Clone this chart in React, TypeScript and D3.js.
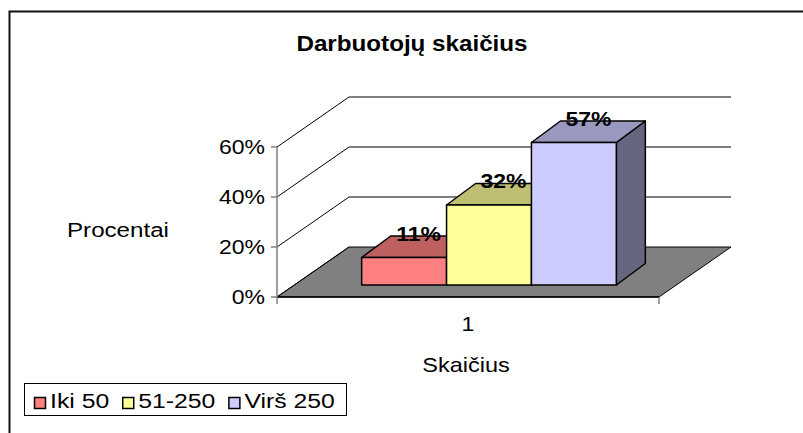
import React from "react";
import * as d3 from "d3";

const title = "Darbuotojų skaičius";
const categories = ["1"];
const seriesNames = ["Iki 50", "51-250", "Virš 250"];
const seriesValues = [0.11, 0.32, 0.57];
const dataLabels = ["11%", "32%", "57%"];
const yTicks = [0, 0.2, 0.4, 0.6];
const yTickLabels = ["0%", "20%", "40%", "60%"];
const yTitle = "Procentai";
const xTitle = "Skaičius";

const frontColors = ["#FF8080", "#FFFF99", "#CCCCFF"];

const FONT = '"Liberation Sans", Arial, sans-serif';
const SX = 1.15;

// layout
const X0 = 277, X1 = 659, Y0 = 297, Y1 = 147;
const FDX = 72, FDY = -50; // floor depth
const BOX = 21, BOY = -12; // bar front offset into depth
const BDX = 29, BDY = -21.5; // bar depth

function measure(text: string, font: string) {
  const c = document.createElement("canvas").getContext("2d");
  if (!c) return text.length * 10;
  c.font = font;
  return c.measureText(text).width;
}

function T(props: { x: number; y: number; s?: number; size: number; bold?: boolean; anchor?: string; children: string }) {
  const { x, y, s = SX, size, bold, anchor = "start", children } = props;
  return (
    <text
      transform={`translate(${x},${y}) scale(${s},1)`}
      fontFamily={FONT}
      fontSize={size}
      fontWeight={bold ? "bold" : "normal"}
      textAnchor={anchor}
      fill="#000"
    >
      {children}
    </text>
  );
}

export default function App() {
  const y = d3.scaleLinear().domain([0, 0.6]).range([Y0, Y1]);
  const x = d3.scaleBand<string>().domain(categories).range([X0, X1]).padding(0.2);
  const inner = d3.scaleBand<string>().domain(seriesNames).range([0, x.bandwidth()]).padding(0);
  const shade = (c: string, k: number) => {
    const r = d3.rgb(c);
    return d3.rgb(r.r * k, r.g * k, r.b * k).formatHex();
  };
  const pts = (p: [number, number][]) => p.map((q) => q.join(",")).join(" ");

  // legend layout
  const legFont = 21, legS = 1.18;
  let lx = 34;
  const legItems = seriesNames.map((n, i) => {
    const w = measure(n, `${legFont}px ${FONT}`) * legS;
    const item = { n, i, sx: lx, tx: lx + 16 };
    lx = lx + 16 + w + 13;
    return item;
  });

  return (
    <svg width={803} height={433} style={{ position: "absolute", left: 0, top: 0 }}>
      <rect x={0} y={0} width={803} height={433} fill="#fff" />
      <rect x={9.5} y={11.5} width={900} height={500} fill="none" stroke="#111" strokeWidth={2} />
      <T x={412} y={51} size={22} bold s={1.1} anchor="middle">{title}</T>

      {/* floor */}
      <polygon
        points={pts([[X0, Y0], [X1, Y0], [X1 + FDX, Y0 + FDY], [X0 + FDX, Y0 + FDY]])}
        fill="#808080"
        stroke="#000"
        strokeWidth={1}
      />
      {/* left wall diagonals and back gridlines */}
      {yTicks.map((t) => (
        <g key={t}>
          <line x1={X0} y1={y(t)} x2={X0 + FDX} y2={y(t) + FDY} stroke="#000" strokeWidth={1} />
          {t > 0 && (
            <line x1={X0 + FDX} y1={y(t) + FDY} x2={X1 + FDX} y2={y(t) + FDY} stroke="#000" strokeWidth={1} />
          )}
        </g>
      ))}
      <line x1={X0} y1={Y0} x2={X1} y2={Y0} stroke="#000" strokeWidth={1.5} />
      {/* y axis */}
      <line x1={X0} y1={Y1} x2={X0} y2={Y0} stroke="#808080" strokeWidth={1.5} />
      {yTicks.map((t, i) => (
        <g key={"yt" + t}>
          <line x1={X0 - 6} y1={y(t)} x2={X0} y2={y(t)} stroke="#808080" strokeWidth={1.5} />
          <T x={265} y={y(t) + 7} size={20} anchor="end">{yTickLabels[i]}</T>
        </g>
      ))}
      {/* x axis ticks */}
      <line x1={X0} y1={Y0} x2={X0} y2={Y0 + 7} stroke="#808080" strokeWidth={1.5} />
      <line x1={X1} y1={Y0} x2={X1} y2={Y0 + 7} stroke="#808080" strokeWidth={1.5} />
      {categories.map((c) => (
        <T key={c} x={(x(c) as number) + x.bandwidth() / 2} y={331} size={20} anchor="middle">{c}</T>
      ))}

      {/* bars */}
      {seriesNames.map((n, i) => {
        const v = seriesValues[i];
        const xl = (x(categories[0]) as number) + (inner(n) as number) + BOX;
        const xr = xl + inner.bandwidth();
        const yb = y(0) + BOY;
        const yt = y(v) + BOY;
        const c = frontColors[i];
        return (
          <g key={n} stroke="#000" strokeWidth={1.5} strokeLinejoin="round">
            <polygon points={pts([[xr, yb], [xr + BDX, yb + BDY], [xr + BDX, yt + BDY], [xr, yt]])} fill={shade(c, 0.5)} />
            <polygon points={pts([[xl, yt], [xr, yt], [xr + BDX, yt + BDY], [xl + BDX, yt + BDY]])} fill={shade(c, 0.75)} />
            <rect x={xl} y={yt} width={xr - xl} height={yb - yt} fill={c} />
          </g>
        );
      })}
      {seriesNames.map((n, i) => {
        const v = seriesValues[i];
        const xl = (x(categories[0]) as number) + (inner(n) as number) + BOX;
        const cx = xl + inner.bandwidth() / 2 + BDX / 2;
        const ty = y(v) + BOY + BDY / 2 - 6;
        return (
          <T key={"l" + n} x={cx} y={ty} size={20} bold anchor="middle">{dataLabels[i]}</T>
        );
      })}

      {/* axis titles */}
      <T x={67} y={237} size={21}>{yTitle}</T>
      <T x={466} y={372} size={21} s={1.12} anchor="middle">{xTitle}</T>

      {/* legend */}
      <rect x={24.5} y={383.5} width={322} height={32} fill="#fff" stroke="#000" strokeWidth={1} />
      {legItems.map((it) => (
        <g key={it.n}>
          <rect x={it.sx + 0.5} y={397.5} width={11} height={11} fill={frontColors[it.i]} stroke="#000" strokeWidth={1.5} />
          <T x={it.tx} y={408} size={legFont} s={legS}>{it.n}</T>
        </g>
      ))}
    </svg>
  );
}
